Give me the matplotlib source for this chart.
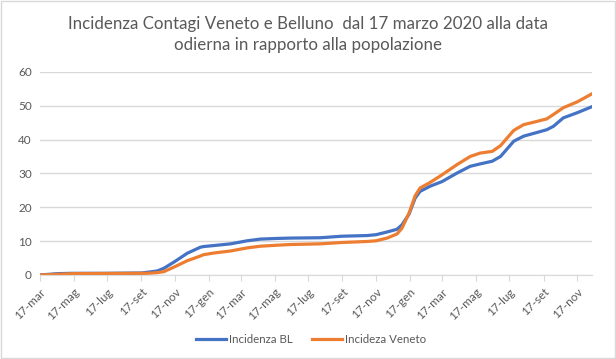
''' Incidenza contagi Veneto e Belluno '''
from matplotlib import pyplot as plt
from matplotlib.patches import Rectangle
import pandas as pd

# dati (percentuale cumulata sulla popolazione)
dates = ['2020-03-17', '2020-04-18', '2020-05-15', '2020-07-15', '2020-09-17',
         '2020-09-28', '2020-10-16', '2020-10-28', '2020-11-16', '2020-12-09',
         '2021-01-02', '2021-01-08', '2021-01-27', '2021-02-26', '2021-03-28',
         '2021-04-21', '2021-05-22', '2021-06-15', '2021-08-08', '2021-09-16',
         '2021-11-01', '2021-11-17', '2021-12-07', '2021-12-25', '2022-01-03',
         '2022-01-16', '2022-01-27', '2022-02-05', '2022-02-23', '2022-03-17',
         '2022-04-13', '2022-05-07', '2022-05-25', '2022-06-16', '2022-07-01',
         '2022-07-25', '2022-08-12', '2022-08-30', '2022-09-23', '2022-10-05',
         '2022-10-23', '2022-11-17', '2022-12-14']
incidenza_bl = [0.0, 0.4, 0.5, 0.5, 0.6,
                0.8, 1.2, 2.0, 3.9, 6.4,
                8.2, 8.4, 8.7, 9.2, 10.1,
                10.6, 10.8, 10.9, 11.0, 11.45,
                11.65, 11.9, 12.7, 13.5, 14.8,
                18.0, 22.7, 24.7, 26.2, 27.6,
                30.1, 32.1, 32.8, 33.6, 35.0,
                39.5, 41.0, 41.8, 42.9, 43.9,
                46.4, 47.9, 49.7]
incidenza_veneto = [0.0, 0.2, 0.4, 0.45, 0.5,
                    0.5, 0.7, 1.0, 2.4, 4.2,
                    5.6, 6.0, 6.5, 7.1, 8.0,
                    8.5, 8.8, 9.0, 9.2, 9.6,
                    9.9, 10.1, 10.9, 12.1, 13.8,
                    18.3, 23.4, 25.7, 27.3, 29.6,
                    32.6, 35.0, 36.0, 36.5, 38.2,
                    42.7, 44.4, 45.1, 46.1, 47.4,
                    49.4, 51.1, 53.5]
mesi = {1: 'gen', 3: 'mar', 5: 'mag', 7: 'lug', 9: 'set', 11: 'nov'}

x = pd.to_datetime(dates)
txt = '#595959'
plt.rcParams['font.family'] = ['Lato', 'DejaVu Sans']

fig = plt.figure(figsize=(6.16, 3.59), dpi=100)
fig.patches.append(Rectangle((0.002, 0.003), 0.996, 0.994, transform=fig.transFigure,
                             fill=False, edgecolor='#D9D9D9', linewidth=1))
ax = fig.add_axes([0.065, 0.234, 0.896, 0.566])

ax.plot(x, incidenza_bl, color='#4472C4', linewidth=2.3, label='Incidenza BL')
ax.plot(x, incidenza_veneto, color='#ED7D31', linewidth=2.3, label='Incideza Veneto')

ax.set_ylim(0, 60)
ax.set_yticks(range(0, 61, 10))
ax.set_xlim(x[0], x[-1])
ticks = pd.date_range('2020-03-01', '2022-11-01', freq='2MS') + pd.Timedelta(days=16)
ax.set_xticks(ticks)
ax.set_xticklabels(['17-' + mesi[t.month] for t in ticks], rotation=45, ha='right',
                   rotation_mode='anchor')
ax.grid(axis='y', color='#D9D9D9', linewidth=1)
ax.set_axisbelow(True)
for s in ['top', 'right', 'left']:
    ax.spines[s].set_visible(False)
ax.spines['bottom'].set_color('#D9D9D9')
ax.tick_params(axis='y', length=0, labelsize=8.5, labelcolor=txt, pad=6)
ax.tick_params(axis='x', length=4, color='#D9D9D9', labelsize=8.5, labelcolor=txt, pad=4)

fig.suptitle('Incidenza Contagi Veneto e Belluno  dal 17 marzo 2020 alla data\nodierna in rapporto alla popolazione',
             y=0.955, fontsize=12.2, color=txt, linespacing=1.35)
fig.legend(loc='lower center', bbox_to_anchor=(0.505, 0.01), ncol=2, frameon=False,
           fontsize=8.3, labelcolor=txt, handlelength=2.6, columnspacing=1.6, handletextpad=0.3)

plt.savefig('out.png')
plt.close()
